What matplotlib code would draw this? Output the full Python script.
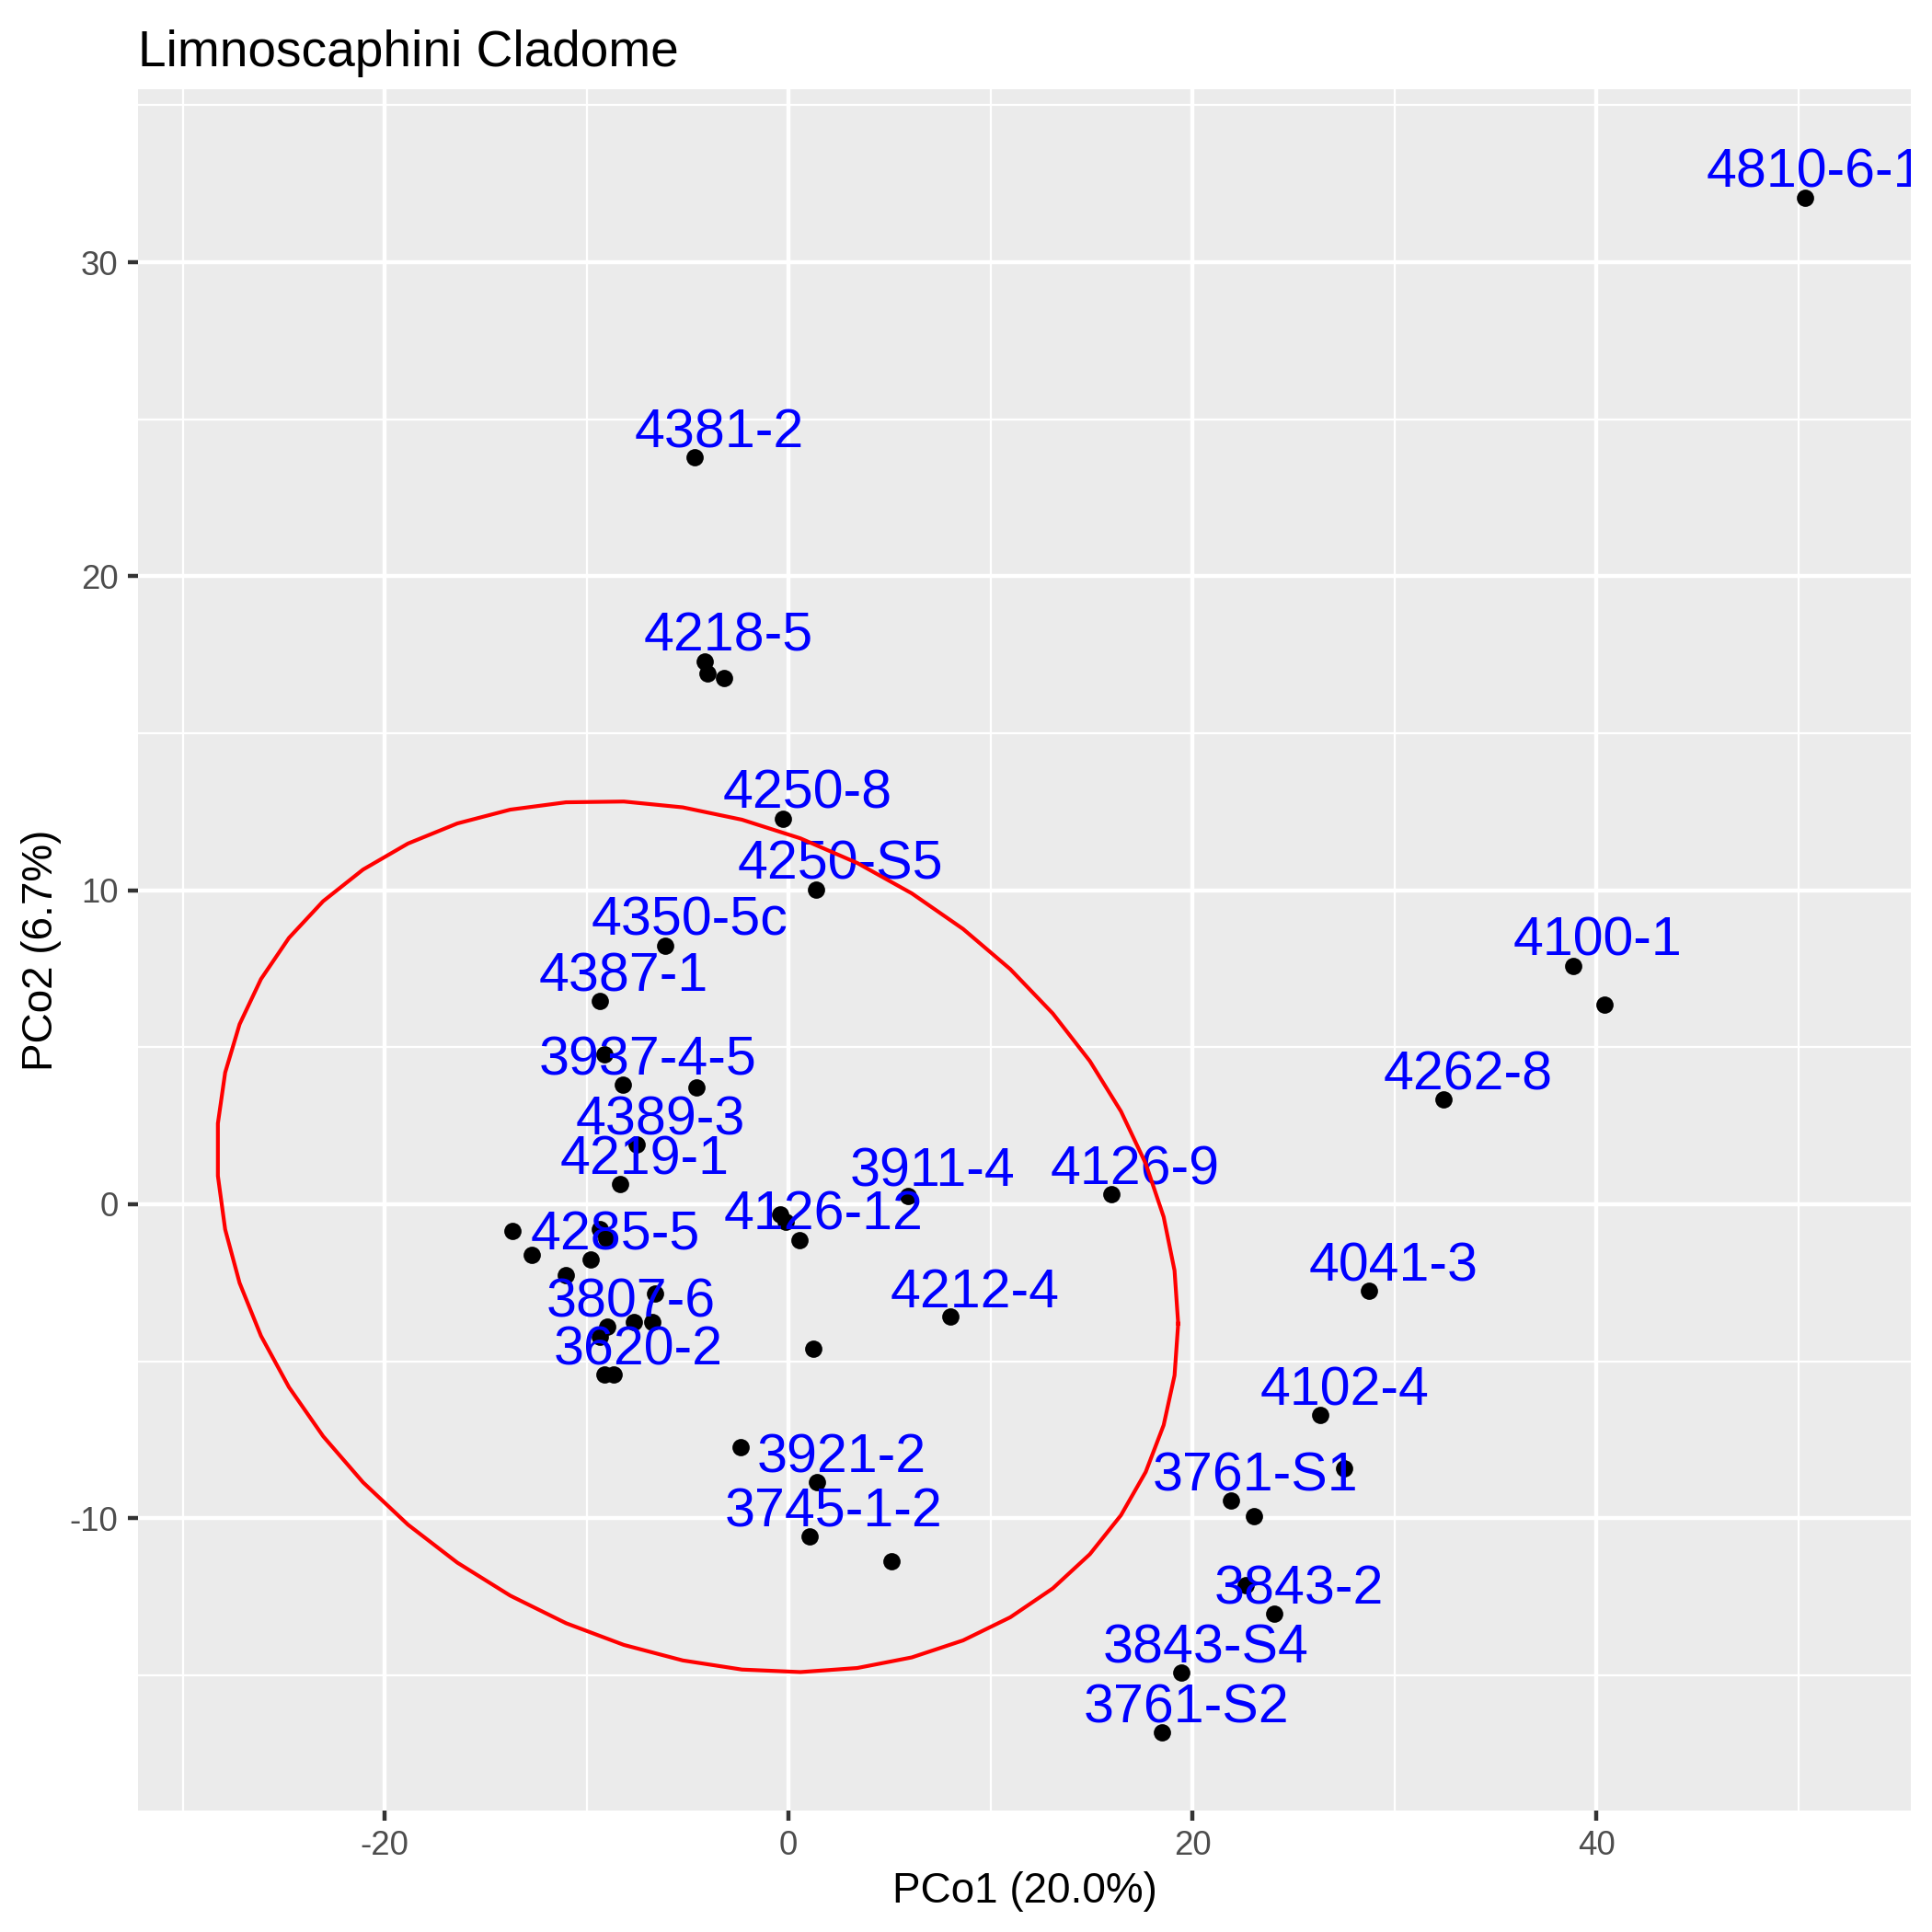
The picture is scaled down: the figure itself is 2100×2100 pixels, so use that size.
import numpy as np
import matplotlib
matplotlib.use('Agg')
import matplotlib.pyplot as plt
from matplotlib.ticker import FixedLocator

plt.rcParams['font.family'] = ['Liberation Sans', 'DejaVu Sans']
plt.rcParams['axes.unicode_minus'] = False

# PCoA scores
pco1 = [50.33, -4.65, -4.16, -3.99, -3.17, -0.27, 1.35, -6.09, -9.35, -9.12,
        -8.18, -4.57, -7.53, -8.34, -13.68, -9.35, -9.04, -12.69, -9.78, -11.02,
        -6.62, -7.64, -6.74, -8.98, -9.35, -9.12, -8.64, -0.41, -0.12, 0.53,
        1.25, 5.93, 15.97, 8.01, -2.37, 1.43, 1.05, 5.09, 38.86, 40.41,
        32.45, 28.76, 26.33, 27.52, 21.93, 23.07, 22.64, 24.06, 19.45, 18.51]
pco2 = [32.05, 23.78, 17.30, 16.89, 16.77, 12.28, 10.03, 8.24, 6.47, 4.76,
        3.80, 3.73, 1.90, 0.64, -0.86, -0.79, -1.08, -1.61, -1.77, -2.26,
        -2.84, -3.76, -3.76, -3.91, -4.22, -5.42, -5.42, -0.32, -0.57, -1.13,
        -4.59, 0.26, 0.31, -3.59, -7.74, -8.85, -10.58, -11.36, 7.59, 6.37,
        3.34, -2.76, -6.72, -8.40, -9.45, -9.94, -12.14, -13.04, -14.92, -16.83]
labels = ['4810-6-1', '4381-2', '4218-5', '', '', '4250-8', '4250-S5', '4350-5c', '4387-1', '',
          '3937-4-5', '', '4389-3', '4219-1', '', '', '', '', '4285-5', '',
          '', '', '', '3807-6', '', '', '3620-2', '', '', '4126-12',
          '', '3911-4', '4126-9', '4212-4', '', '3921-2', '3745-1-2', '', '4100-1', '',
          '4262-8', '4041-3', '4102-4', '', '3761-S1', '', '', '3843-2', '3843-S4', '3761-S2']

# ellipse (already scaled by the confidence radius)
ellipse_center = [-4.5, -1.03]
ellipse_cov = [[566.4, -66.0], [-66.0, 192.4]]

x_ticks = [-20, 0, 20, 40]
y_ticks = [-10, 0, 10, 20, 30]

# label nudge in data units, with one exception at the right edge
nudge = (1.2, 0.32)
nudge_special = {'4810-6-1': (0.5, 0.35)}

fig = plt.figure(figsize=(7, 7), dpi=300)
ax = fig.add_axes([150 / 2100, 132 / 2100, 1927 / 2100, 1871 / 2100])
ax.set_facecolor('#EBEBEB')
for s in ax.spines.values():
    s.set_visible(False)

ax.set_xlim(-32.21, 55.58)
ax.set_ylim(-19.31, 35.51)
ax.xaxis.set_major_locator(FixedLocator(x_ticks))
ax.yaxis.set_major_locator(FixedLocator(y_ticks))
ax.xaxis.set_minor_locator(FixedLocator([-30, -10, 10, 30, 50]))
ax.yaxis.set_minor_locator(FixedLocator([-15, -5, 5, 15, 25, 35]))
ax.set_xticklabels([str(t) for t in x_ticks])
ax.set_yticklabels([str(t) for t in y_ticks])
ax.set_axisbelow(True)
ax.grid(which='major', color='white', linewidth=1.07)
ax.grid(which='minor', color='white', linewidth=0.53)
ax.tick_params(which='major', length=2.75, width=1.07, color='#333333',
               labelsize=8.8, labelcolor='#4D4D4D', pad=2.4)
ax.tick_params(which='minor', length=0)

ax.plot(pco1, pco2, 'o', color='black', markersize=4.5, markeredgewidth=0, zorder=3)

for x, y, lab in zip(pco1, pco2, labels):
    if lab:
        dx, dy = nudge_special.get(lab, nudge)
        ax.text(x + dx, y + dy, lab, color='blue', fontsize=14.2,
                ha='center', va='baseline', zorder=4, clip_on=True)

# ellipse outline, 51 segments like stat_ellipse
t = np.linspace(0, 2 * np.pi, 52)
chol = np.linalg.cholesky(np.array(ellipse_cov)).T
circle = np.column_stack([np.cos(t), np.sin(t)])
ell = circle @ chol + np.array(ellipse_center)
ax.plot(ell[:, 0], ell[:, 1], color='red', linewidth=1.0, zorder=5)

ax.set_xlabel('PCo1 (20.0%)', fontsize=11, va='baseline', ha='center')
ax.xaxis.set_label_coords(0.5, (1968 - 2068) / 1871)
ax.set_ylabel('PCo2 (6.7%)', fontsize=11, rotation=90, rotation_mode='anchor',
              va='baseline', ha='center')
ax.yaxis.set_label_coords((57 - 150) / 1927, 0.5)

fig.text(150 / 2100, 1 - 71.7 / 2100, 'Limnoscaphini Cladome', fontsize=13.2,
         ha='left', va='baseline')

fig.savefig('out.png', dpi=300)
